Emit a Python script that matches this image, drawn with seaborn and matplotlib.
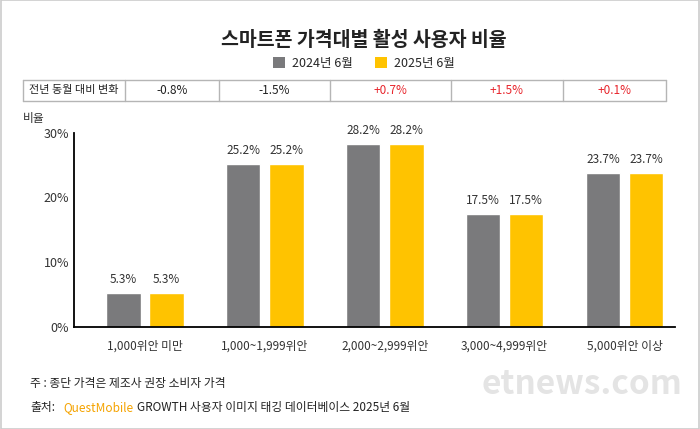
import numpy as np
import pandas as pd
import matplotlib.pyplot as plt
import seaborn as sns
from matplotlib.patches import Patch, Rectangle
from matplotlib.lines import Line2D

# 데이터
price_bins = ['1,000위안 미만', '1,000~1,999위안', '2,000~2,999위안', '3,000~4,999위안', '5,000위안 이상']
share_2024 = [5.3, 25.2, 28.2, 17.5, 23.7]
share_2025 = [5.3, 25.2, 28.2, 17.5, 23.7]
yoy_change = ['-0.8%', '-1.5%', '+0.7%', '+1.5%', '+0.1%']
years = ['2024년 6월', '2025년 6월']
y_ticks = [0, 10, 20, 30]

gray = '#7a7a7c'
yellow = '#ffc300'

df = pd.DataFrame({
    '구간': price_bins * 2,
    '연도': [years[0]] * 5 + [years[1]] * 5,
    '비율': share_2024 + share_2025,
})

sns.set_style('white')
plt.rcParams['font.family'] = ['Noto Sans CJK KR', 'DejaVu Sans']

fig = plt.figure(figsize=(7, 4.29), dpi=100)
ax = fig.add_axes([0.106, 0.238, 0.858, 0.453])

sns.barplot(data=df, x='구간', y='비율', hue='연도', palette=[gray, yellow], saturation=1,
            width=0.72, gap=0.2, legend=False, ax=ax)

for cont in ax.containers:
    ax.bar_label(cont, fmt='%.1f%%', padding=5, fontsize=8.5, color='#333333')

ax.set_ylim(0, 30)
ax.set_xlim(-0.59, 4.42)
ax.set_yticks(y_ticks)
ax.set_yticklabels([f'{t}%' for t in y_ticks], fontsize=9, color='#333333')
ax.tick_params(axis='both', length=0)
ax.tick_params(axis='x', pad=9, labelsize=8.5, labelcolor='#333333')
ax.set_xlabel('')
ax.set_ylabel('')
sns.despine(ax=ax)
for s in ['left', 'bottom']:
    ax.spines[s].set_color('black')
    ax.spines[s].set_linewidth(1.3)

ax.text(-0.085, 1.04, '비율', transform=ax.transAxes, fontsize=8.5, color='#333333',
        ha='left', va='bottom')

# 제목
fig.text(0.52, 0.905, '스마트폰 가격대별 활성 사용자 비율', ha='center', va='center',
         fontsize=14, fontweight='bold', color='#222222')

# 범례
handles = [Patch(facecolor=gray, edgecolor='none'), Patch(facecolor=yellow, edgecolor='none')]
fig.legend(handles, years, loc='center', bbox_to_anchor=(0.52, 0.852), ncol=2, frameon=False,
           fontsize=9, handlelength=0.9, handleheight=0.9, handletextpad=0.6, columnspacing=1.8)

# 전년 동월 대비 변화 표
px = [23, 125, 219, 330, 451, 563, 666]
xs = [p / 700 for p in px]
y_top, y_bot = 1 - 80 / 429, 1 - 101 / 429
line_c = '#b5b5b5'
fig.add_artist(Line2D([xs[0], xs[-1]], [y_top, y_top], color=line_c, lw=1, transform=fig.transFigure))
fig.add_artist(Line2D([xs[0], xs[-1]], [y_bot, y_bot], color=line_c, lw=1, transform=fig.transFigure))
for x in xs:
    fig.add_artist(Line2D([x, x], [y_bot, y_top], color=line_c, lw=1, transform=fig.transFigure))
ym = (y_top + y_bot) / 2
fig.text((xs[0] + xs[1]) / 2, ym, '전년 동월 대비 변화', ha='center', va='center', fontsize=8, color='#222222')
for i, v in enumerate(yoy_change):
    c = '#e8262d' if v.startswith('+') else '#222222'
    fig.text((xs[i + 1] + xs[i + 2]) / 2, ym, v, ha='center', va='center', fontsize=8.5, color=c)

# 주석 / 출처
fig.text(30 / 700, 1 - 384 / 429, '주 : 종단 가격은 제조사 권장 소비자 가격', ha='left', va='center',
         fontsize=8.5, color='#222222')
renderer = fig.canvas.get_renderer()
x0 = 30
ys = 1 - 408 / 429
for txt, col, gap in [('출처:', '#222222', 8), ('QuestMobile', '#f5a300', 4),
                      ('GROWTH 사용자 이미지 태깅 데이터베이스 2025년 6월', '#222222', 0)]:
    t = fig.text(x0 / 700, ys, txt, ha='left', va='center', fontsize=8.5, color=col)
    w = t.get_window_extent(renderer).width
    x0 += w + gap

# 워터마크
fig.text(482 / 700, 1 - 385 / 429, 'etnews.com', ha='left', va='center', fontsize=24,
         fontweight='bold', color='#e4e4e4')

# 테두리
fig.add_artist(Rectangle((0.001, 0.001), 0.998, 0.998, transform=fig.transFigure,
                         fill=False, edgecolor='#cccccc', lw=1.2))

fig.savefig('out.png', dpi=100)
